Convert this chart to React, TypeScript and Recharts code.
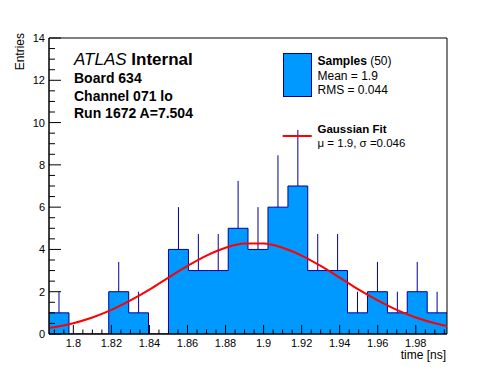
import React from 'react';
import { ComposedChart, Area, Line, Scatter, ErrorBar, XAxis, YAxis, ReferenceArea } from 'recharts';

const X_MIN = 1.7872;
const X_MAX = 1.9964;

const binEdges = [
  1.7872, 1.7977, 1.8082, 1.8186, 1.8291, 1.8395, 1.85, 1.8605, 1.8709, 1.8814, 1.8918,
  1.9023, 1.9128, 1.9232, 1.9337, 1.9441, 1.9546, 1.9651, 1.9755, 1.986, 1.9964,
];
const binCounts = [1, 0, 0, 2, 1, 0, 4, 3, 3, 5, 4, 6, 7, 3, 3, 1, 2, 1, 2, 1];
const binErrors = [1, 0, 0, 1.41, 1, 0, 2, 1.73, 1.73, 2.24, 2, 2.45, 2.65, 1.73, 1.73, 1, 1.41, 1, 1.41, 1];

const fitX = [
  1.7872, 1.79, 1.8, 1.81, 1.82, 1.83, 1.84, 1.85, 1.86, 1.87, 1.88, 1.89, 1.9, 1.91, 1.92,
  1.93, 1.94, 1.95, 1.96, 1.97, 1.98, 1.99, 1.9964,
];
const fitY = [
  0.28, 0.32, 0.51, 0.78, 1.14, 1.59, 2.1, 2.67, 3.22, 3.71, 4.08, 4.28, 4.28, 4.08, 3.71,
  3.22, 2.67, 2.1, 1.59, 1.14, 0.78, 0.51, 0.38,
];

const xMajorTicks = [1.8, 1.82, 1.84, 1.86, 1.88, 1.9, 1.92, 1.94, 1.96, 1.98];
const xTickLabels = ['1.8', '1.82', '1.84', '1.86', '1.88', '1.9', '1.92', '1.94', '1.96', '1.98'];
const xMinorTicks = [
  1.79, 1.795, 1.805, 1.81, 1.815, 1.825, 1.83, 1.835, 1.845, 1.85, 1.855, 1.865, 1.87, 1.875,
  1.885, 1.89, 1.895, 1.905, 1.91, 1.915, 1.925, 1.93, 1.935, 1.945, 1.95, 1.955, 1.965, 1.97,
  1.975, 1.985, 1.99, 1.995,
];
const yMajorTicks = [0, 2, 4, 6, 8, 10, 12, 14];
const yTickLabels = ['0', '2', '4', '6', '8', '10', '12', '14'];
const yMinorTicks = [0.5, 1, 1.5, 2.5, 3, 3.5, 4.5, 5, 5.5, 6.5, 7, 7.5, 8.5, 9, 9.5, 10.5, 11, 11.5, 12.5, 13, 13.5];

const FONT = '"Liberation Sans", Arial, Helvetica, sans-serif';
const FILL = '#0099ff';
const NAVY = '#000099';

const histData = binEdges.map((x, i) => ({ x, count: binCounts[Math.min(i, binCounts.length - 1)] }));
const errData = binCounts
  .map((c, i) => ({ x: (binEdges[i] + binEdges[i + 1]) / 2, count: c, err: [0, binErrors[i]] }))
  .filter((d) => d.count > 0);
const fitData = fitX.map((x, i) => ({ x, fit: fitY[i] }));

const xAllTicks = [...xMajorTicks, ...xMinorTicks].sort((a, b) => a - b);
const yAllTicks = [...yMajorTicks, ...yMinorTicks].sort((a, b) => a - b);

const XTick = (props: any) => {
  const { x, y, payload } = props;
  const v = payload.value;
  const idx = xMajorTicks.findIndex((t) => Math.abs(t - v) < 1e-6);
  const major = idx >= 0;
  return (
    <g>
      <line x1={x} x2={x} y1={y} y2={y - (major ? 9 : 4.5)} stroke="#000" strokeWidth={1} />
      {major && (
        <text x={x} y={y + 13} textAnchor="middle" fontFamily={FONT} fontSize={11} fill="#000">
          {xTickLabels[idx]}
        </text>
      )}
    </g>
  );
};

const YTick = (props: any) => {
  const { x, y, payload } = props;
  const v = payload.value;
  const idx = yMajorTicks.findIndex((t) => Math.abs(t - v) < 1e-6);
  const major = idx >= 0;
  return (
    <g>
      <line x1={x} x2={x + (major ? 12 : 6)} y1={y} y2={y} stroke="#000" strokeWidth={1} />
      {major && (
        <text x={x - 4} y={y + 4} textAnchor="end" fontFamily={FONT} fontSize={11} fill="#000">
          {yTickLabels[idx]}
        </text>
      )}
    </g>
  );
};

const NoShape = () => <g />;

export default function App() {
  return (
    <div style={{ position: 'absolute', left: 0, top: 0, width: 496, height: 372, background: '#fff' }}>
      <ComposedChart width={496} height={372} margin={{ top: 38, right: 49, bottom: 0, left: 0 }}>
        <XAxis
          type="number"
          dataKey="x"
          domain={[X_MIN, X_MAX]}
          allowDataOverflow
          ticks={xAllTicks}
          interval={0}
          tickSize={0}
          tickMargin={0}
          tickLine={false}
          tick={<XTick />}
          height={38}
          axisLine={{ stroke: '#000' }}
        />
        <YAxis
          type="number"
          domain={[0, 14]}
          allowDataOverflow
          ticks={yAllTicks}
          interval={0}
          tickSize={0}
          tickMargin={0}
          tickLine={false}
          tick={<YTick />}
          width={49}
          axisLine={{ stroke: '#000' }}
        />
        <Area
          data={histData}
          dataKey="count"
          type="stepAfter"
          fill={FILL}
          fillOpacity={1}
          stroke={NAVY}
          strokeWidth={1}
          isAnimationActive={false}
          dot={false}
          activeDot={false}
        />
        <Scatter data={errData} dataKey="count" shape={<NoShape />} isAnimationActive={false}>
          <ErrorBar dataKey="err" direction="y" width={0} stroke={NAVY} strokeWidth={1} isAnimationActive={false} />
        </Scatter>
        <Line
          data={fitData}
          dataKey="fit"
          type="monotone"
          stroke="#ff0000"
          strokeWidth={2}
          dot={false}
          activeDot={false}
          isAnimationActive={false}
        />
        <ReferenceArea x1={X_MIN} x2={X_MAX} y1={0} y2={14} fill="none" stroke="#000" strokeWidth={1} ifOverflow="visible" />
      </ComposedChart>
      <svg
        width={496}
        height={372}
        style={{ position: 'absolute', left: 0, top: 0, pointerEvents: 'none' }}
        fontFamily={FONT}
      >
        <text x={24} y={33} transform="rotate(-90 24 33)" textAnchor="end" fontSize={12} fill="#000">
          Entries
        </text>
        <text x={446} y={359} textAnchor="end" fontSize={12} fill="#000">
          time [ns]
        </text>
        <text x={74} y={64.5} fontSize={17} fill="#000">
          <tspan fontStyle="italic">ATLAS</tspan>
          <tspan fontWeight="bold"> Internal</tspan>
        </text>
        <text x={74} y={82.5} fontSize={14} fontWeight="bold" fill="#000">Board 634</text>
        <text x={74} y={100.5} fontSize={14} fontWeight="bold" fill="#000">Channel 071 lo</text>
        <text x={74} y={117.5} fontSize={14} fontWeight="bold" fill="#000">Run 1672 A=7.504</text>

        <rect x={283.5} y={53.5} width={28} height={43} fill={FILL} stroke={NAVY} strokeWidth={1} />
        <text x={317.5} y={65.3} fontSize={12} fill="#000">
          <tspan fontWeight="bold">Samples</tspan>
          <tspan> (50)</tspan>
        </text>
        <text x={317.5} y={80} fontSize={12} fill="#000">Mean = 1.9</text>
        <text x={317.5} y={94} fontSize={12} fill="#000">RMS = 0.044</text>
        <line x1={282.7} x2={311.7} y1={136} y2={136} stroke="#ff0000" strokeWidth={2} />
        <text x={317.5} y={133} fontSize={11.5} fontWeight="bold" fill="#000">Gaussian Fit</text>
        <text x={317.5} y={146.5} fontSize={11.5} fill="#000">μ = 1.9, σ =0.046</text>
      </svg>
    </div>
  );
}
